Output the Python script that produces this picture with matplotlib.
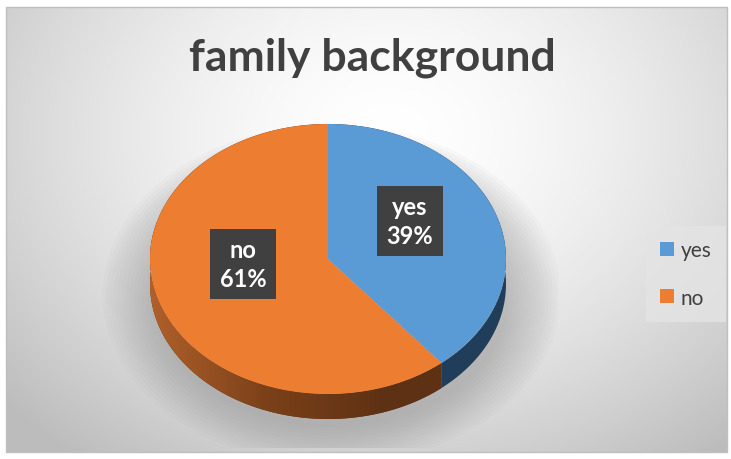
import matplotlib.pyplot as plt
import numpy as np
from matplotlib.patches import Patch, Polygon, Ellipse, Rectangle
from matplotlib.colors import LinearSegmentedColormap

# data
categories = ['yes', 'no']
shares = [39, 61]
top_colors = ['#5b9bd5', '#ed7d31']
side_colors = ['#203e5a', '#5e3114']
title = 'family background'

plt.rcParams['font.family'] = ['Lato', 'DejaVu Sans']

W, H = 731, 460
fig = plt.figure(figsize=(W / 100, H / 100), dpi=100)

# radial grey background
bg = fig.add_axes([0, 0, 1, 1])
bg.set_xlim(0, W)
bg.set_ylim(H, 0)
bg.axis('off')
yy, xx = np.mgrid[0:H, 0:W]
r = np.sqrt(((xx - 390) / 520.0) ** 2 + ((yy - 130) / 420.0) ** 2)
shade = 1.0 - 0.26 * np.clip(r, 0, 1) ** 1.6
bg.imshow(np.dstack([shade] * 3), extent=(6, 727, 453, 8), zorder=0)
bg.add_patch(Rectangle((6, 8), 721, 445, fill=False, ec='#bfbfbf', lw=1, zorder=1))

fig.text(372 / W, 1 - 58 / H, title, ha='center', va='center',
         fontsize=32, fontweight='bold', color='#404040')

# pie axes: 1 unit = 178 px across, 135 px down
cx, cy, rx, ry = 328, 260, 178, 135
x0, x1, y0, y1 = -1.3, 1.3, -1.4, 1.2
ax = fig.add_axes([(cx + x0 * rx) / W, (H - cy + y0 * ry) / H,
                   (x1 - x0) * rx / W, (y1 - y0) * ry / H])
depth = 25 / ry

# soft shadow
for k in range(14):
    s = 1.0 + 0.022 * k
    ax.add_patch(Ellipse((0.02, -depth - 0.08), 2 * s, 2 * s * 0.98,
                         color='#808080', alpha=0.035, lw=0, zorder=0))

# side band of each slice
fracs = np.array(shares) / sum(shares)
edges = 90 - 360 * np.concatenate([[0], np.cumsum(fracs)])


def band(t1, t2):
    t = np.radians(np.linspace(t1, t2, 200))
    top = np.column_stack([np.cos(t), np.sin(t)])
    low = top - [0, depth]
    return np.vstack([low, top[::-1]])


for i in range(len(shares)):
    poly = Polygon(band(edges[i + 1], edges[i]), closed=True, lw=0,
                   fc=side_colors[i], zorder=2)
    ax.add_patch(poly)
    if i == 1:
        grad = LinearSegmentedColormap.from_list('side', ['#b0602a', '#7a4019', '#5e3114', '#5e3114'])
        im = ax.imshow(np.linspace(0, 1, 256)[None, :], cmap=grad, aspect='auto',
                       extent=(-1.0, 1.0, -1.0 - depth, 0.2), zorder=3)
        im.set_clip_path(poly)

wedges, _ = ax.pie(shares, colors=top_colors, startangle=90, counterclock=False,
                   radius=1, wedgeprops=dict(lw=0, zorder=4))
for w in wedges:
    w.set_zorder(4)

ax.set_aspect('auto')
ax.set_xlim(x0, x1)
ax.set_ylim(y0, y1)
ax.axis('off')

# data labels
label_pos = [(0.46, 0.28), (-0.478, -0.037)]
for name, val, (lx, ly) in zip(categories, shares, label_pos):
    ax.text(lx, ly, f'{name}\n{val}%', ha='center', va='center', color='white',
            fontsize=17, fontweight='bold', linespacing=1.3, zorder=6,
            bbox=dict(boxstyle='square,pad=0.4', fc='#404040', ec='none'))

handles = [Patch(fc=c, ec='none') for c in top_colors]
leg = fig.legend(handles, categories, loc='center', bbox_to_anchor=(686 / W, 1 - 275 / H),
                 frameon=True, fontsize=15, labelspacing=1.3, handlelength=0.65,
                 handleheight=0.65, handletextpad=0.35, borderpad=0.7,
                 borderaxespad=0, fancybox=False)
leg.get_frame().set_facecolor('#e4e4e4')
leg.get_frame().set_edgecolor('none')
for t in leg.get_texts():
    t.set_color('#404040')

fig.savefig('out.png', dpi=100)
